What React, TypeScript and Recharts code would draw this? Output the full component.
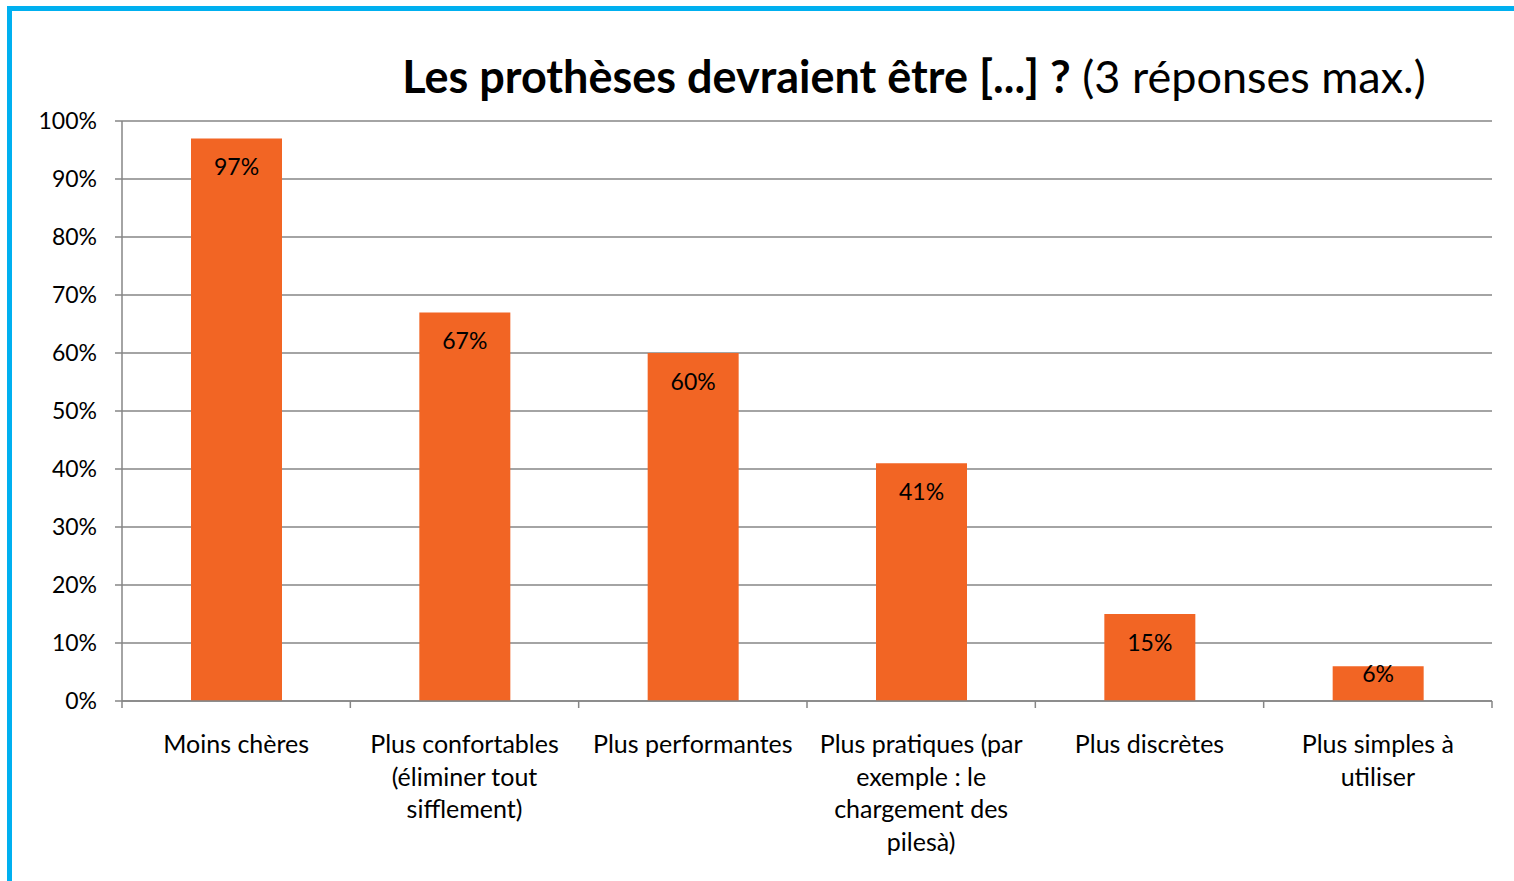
import { Bar, BarChart, CartesianGrid, LabelList, XAxis, YAxis } from "recharts";

const categories = [
  "Moins chères",
  "Plus confortables\n(éliminer tout\nsifflement)",
  "Plus performantes",
  "Plus pratiques (par\nexemple : le\nchargement des\npilesà)",
  "Plus discrètes",
  "Plus simples à\nutiliser",
];
const shares = [97, 67, 60, 41, 15, 6];
const yTicks = [0, 10, 20, 30, 40, 50, 60, 70, 80, 90, 100];

const data = categories.map((label, i) => ({ label, value: shares[i] }));

const W = 1514;
const H = 881;
const M = { top: 121, right: 22, bottom: 0, left: 62 };
const Y_AXIS_W = 60;
const X_AXIS_H = 180;
const BAND = (W - M.left - Y_AXIS_W - M.right) / categories.length;
const FONT = "Lato, 'Open Sans', sans-serif";
const GRID = "#868686";
const ORANGE = "#F26524";
const BLUE = "#00B0F0";

function CategoryTick(props: any) {
  const { x, y, payload, index } = props;
  const lines = String(payload.value).split("\n");
  const left = x - BAND / 2;
  return (
    <g>
      <line x1={left} x2={left} y1={y} y2={y + 7} stroke={GRID} strokeWidth={1.5} />
      {index === categories.length - 1 && (
        <line x1={left + BAND} x2={left + BAND} y1={y} y2={y + 7} stroke={GRID} strokeWidth={1.5} />
      )}
      <text textAnchor="middle" fontFamily={FONT} fontSize={25} fill="#000">
        {lines.map((line, i) => (
          <tspan key={i} x={x} y={y + 52 + i * 32.6}>
            {line}
          </tspan>
        ))}
      </text>
    </g>
  );
}

function ValueLabel(props: any) {
  const { x, y, width, height, value } = props;
  const ty = height > 50 ? y + 29 : y + 8;
  return (
    <text
      x={x + width / 2}
      y={ty}
      dy="0.35em"
      textAnchor="middle"
      fontFamily={FONT}
      fontSize={23}
      fill="#000"
    >
      {value}%
    </text>
  );
}

export default function App() {
  return (
    <div
      style={{
        position: "fixed",
        left: 0,
        top: 0,
        width: W,
        height: H,
        background: "#fff",
        overflow: "hidden",
      }}
    >
      <div style={{ position: "absolute", left: 7, top: 6, width: W - 7, height: 5, background: BLUE }} />
      <div style={{ position: "absolute", left: 7, top: 6, width: 5, height: H - 6, background: BLUE }} />
      <div
        style={{
          position: "absolute",
          left: 0,
          width: 1828,
          top: 46,
          textAlign: "center",
          fontFamily: FONT,
          fontSize: 45,
          lineHeight: "60px",
          color: "#000",
          whiteSpace: "nowrap",
        }}
      >
        <span style={{ fontWeight: 700 }}>Les prothèses devraient être [...] ?</span>{" "}
        <span>(3 réponses max.)</span>
      </div>
      <div style={{ position: "absolute", left: 0, top: 0 }}>
        <BarChart width={W} height={H} data={data} margin={M} barCategoryGap="30%">
          <CartesianGrid vertical={false} stroke={GRID} strokeWidth={1.5} />
          <XAxis
            dataKey="label"
            height={X_AXIS_H}
            interval={0}
            stroke={GRID}
            strokeWidth={1.5}
            tickLine={false}
            tickSize={0}
            tickMargin={0}
            tick={<CategoryTick />}
          />
          <YAxis
            width={Y_AXIS_W}
            domain={[0, 100]}
            ticks={yTicks}
            interval={0}
            tickFormatter={(v) => `${v}%`}
            stroke={GRID}
            strokeWidth={1.5}
            tickSize={7}
            tickMargin={18}
            tick={{ fill: "#000", fontSize: 23, fontFamily: FONT }}
          />
          <Bar dataKey="value" fill={ORANGE} isAnimationActive={false} barSize={91}>
            <LabelList dataKey="value" content={<ValueLabel />} />
          </Bar>
        </BarChart>
      </div>
    </div>
  );
}
